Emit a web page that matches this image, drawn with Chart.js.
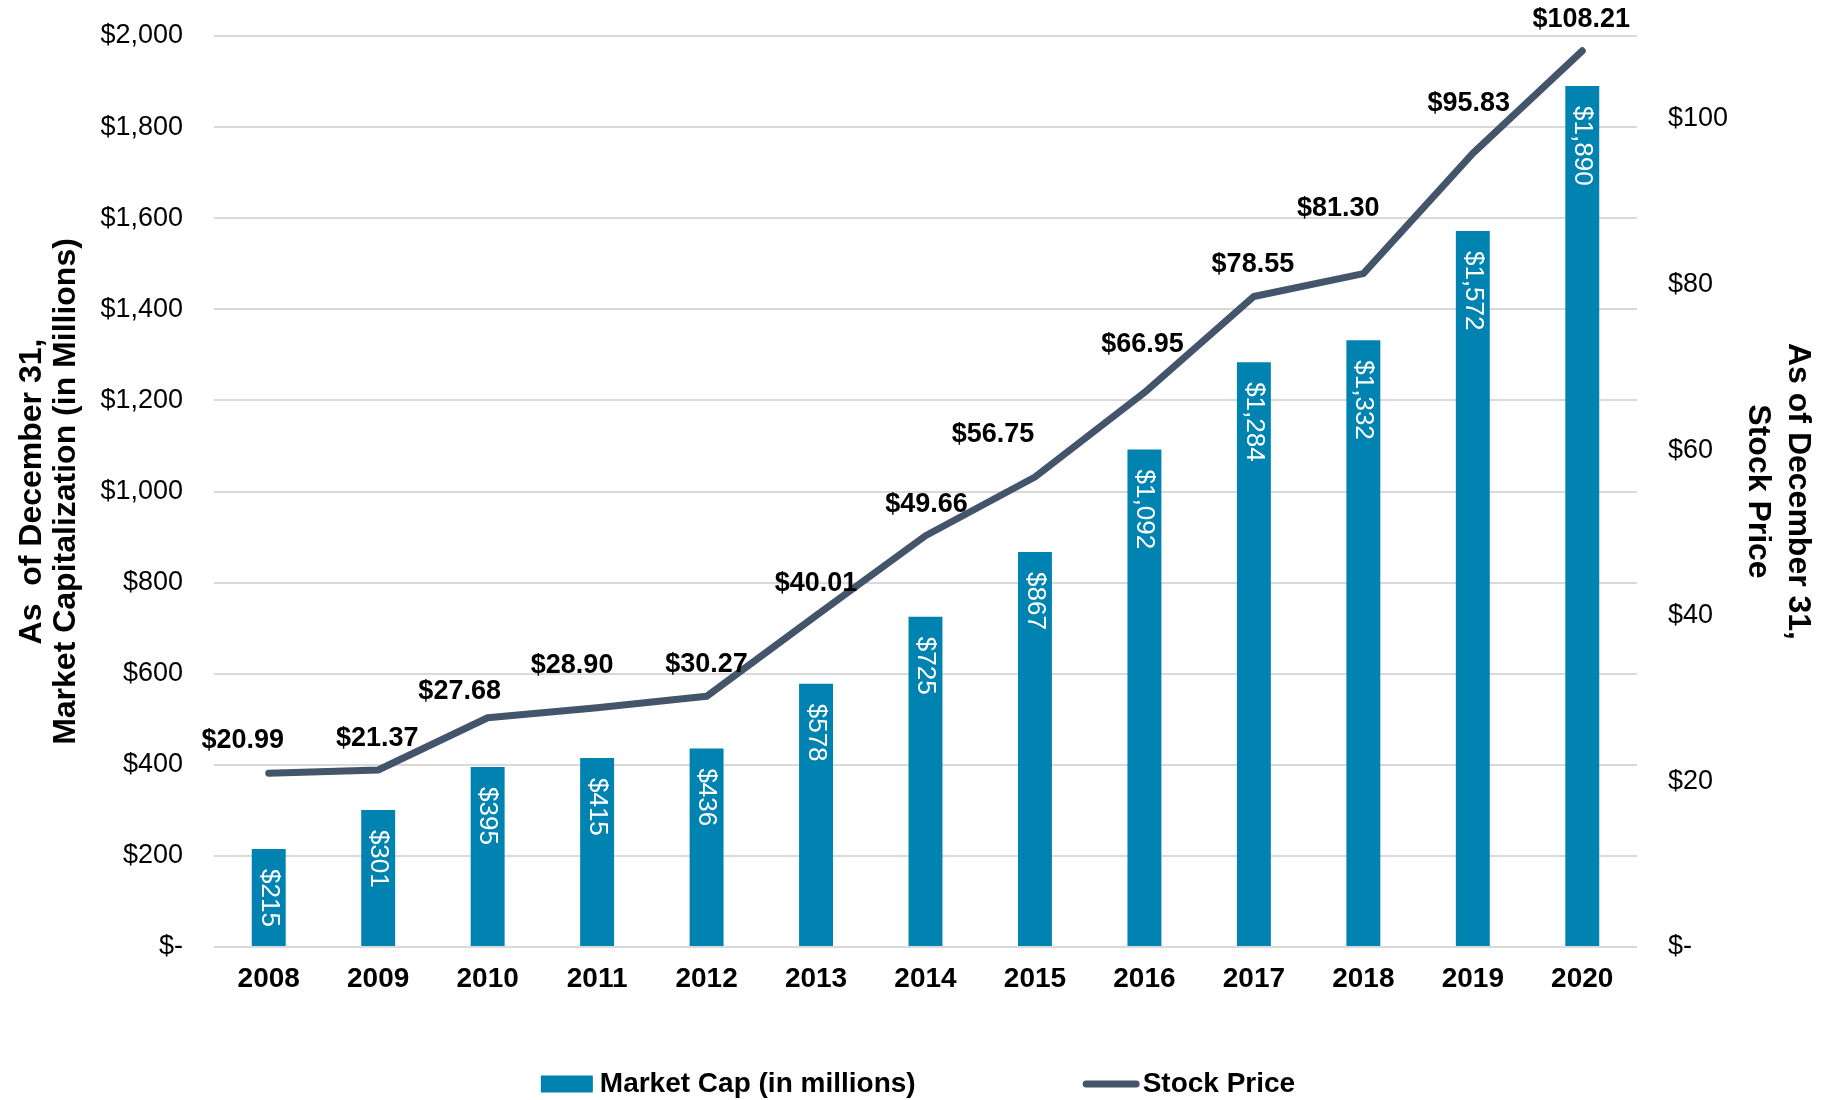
<!DOCTYPE html>
<html lang="en">
  <head>
    <meta charset="utf-8" />
    <title>Market Cap and Stock Price</title>
    <style>
      * {
        margin: 0;
        padding: 0;
      }
      body {
        background: #fff;
      }
      .chartBox {
        width: 1836px;
        height: 1100px;
      }
    </style>
  </head>
  <body>
    <div class="chartBox">
      <canvas id="myChart"></canvas>
    </div>

    <script src="https://cdn.jsdelivr.net/npm/chart.js"></script>

    <script>
      // data block
      const years = ["2008", "2009", "2010", "2011", "2012", "2013", "2014", "2015", "2016", "2017", "2018", "2019", "2020"];
      const marketCap = [215, 301, 395, 415, 436, 578, 725, 867, 1092, 1284, 1332, 1572, 1890];
      const stockPrice = [20.99, 21.37, 27.68, 28.9, 30.27, 40.01, 49.66, 56.75, 66.95, 78.55, 81.3, 95.83, 108.21];
      const capTicks = [0, 200, 400, 600, 800, 1000, 1200, 1400, 1600, 1800, 2000];
      const priceTicks = [0, 20, 40, 60, 80, 100];

      const sansFont = '"Liberation Sans", Arial, sans-serif';
      const barColor = "#0083b0";
      const lineColor = "#44546a";

      // label nudges, like the hand-placed labels in the original
      const priceLabelShiftX = [-26, -1, -28, -25, 0, 0, 1, -42, -2, -1, -25, -4, -1];
      const priceLabelShiftY = [-33, -31, -26, -42, -32, -32, -31, -42, -48, -32, -65, -50, -31];

      const fmtAxis = (v) => (v === 0 ? "$-" : "$" + v.toLocaleString("en-US"));

      // white rotated labels inside the bars
      const barLabels = {
        id: "barLabels",
        afterDatasetsDraw(chart) {
          const { ctx } = chart;
          const meta = chart.getDatasetMeta(0);
          ctx.save();
          ctx.fillStyle = "#fff";
          ctx.font = `26px ${sansFont}`;
          ctx.textAlign = "left";
          ctx.textBaseline = "middle";
          meta.data.forEach((bar, i) => {
            ctx.save();
            ctx.translate(bar.x, bar.y + 20);
            ctx.rotate(Math.PI / 2);
            ctx.fillText("$" + marketCap[i].toLocaleString("en-US"), 0, 0);
            ctx.restore();
          });
          ctx.restore();
        },
      };

      // bold price labels above the line
      const priceLabels = {
        id: "priceLabels",
        afterDatasetsDraw(chart) {
          const { ctx } = chart;
          const meta = chart.getDatasetMeta(1);
          ctx.save();
          ctx.fillStyle = "#000";
          ctx.font = `bold 27px ${sansFont}`;
          ctx.textAlign = "center";
          ctx.textBaseline = "middle";
          meta.data.forEach((pt, i) => {
            ctx.fillText(
              "$" + stockPrice[i].toFixed(2),
              pt.x + priceLabelShiftX[i],
              pt.y + priceLabelShiftY[i]
            );
          });
          ctx.restore();
        },
      };

      // legend drawn by hand so the gap between items can be wide
      const legendBox = {
        id: "legendBox",
        afterDraw(chart) {
          const { ctx, width, height } = chart;
          const y = height - 16;
          const gap = 167;
          ctx.save();
          ctx.font = `bold 28px ${sansFont}`;
          ctx.textBaseline = "middle";
          ctx.fillStyle = "#000";
          const t1 = chart.data.datasets[0].label;
          const t2 = chart.data.datasets[1].label;
          const w1 = ctx.measureText(t1).width;
          const w2 = ctx.measureText(t2).width;
          const total = 52 + 7 + w1 + gap + 57 + 3 + w2;
          let x = width / 2 - total / 2;

          ctx.fillStyle = barColor;
          ctx.fillRect(x, y - 8.5, 52, 17);
          x += 59;
          ctx.fillStyle = "#000";
          ctx.fillText(t1, x, y);
          x += w1 + gap;

          ctx.strokeStyle = lineColor;
          ctx.lineWidth = 7;
          ctx.lineCap = "round";
          ctx.beginPath();
          ctx.moveTo(x + 3.5, y);
          ctx.lineTo(x + 53.5, y);
          ctx.stroke();
          x += 60;
          ctx.fillText(t2, x, y);
          ctx.restore();
        },
      };

      // config block
      const config = {
        data: {
          labels: years,
          datasets: [
            {
              type: "bar",
              label: "Market Cap (in millions)",
              data: marketCap,
              backgroundColor: barColor,
              yAxisID: "y",
              order: 1,
              barPercentage: 0.31,
              categoryPercentage: 1,
            },
            {
              type: "line",
              label: "Stock Price",
              data: stockPrice,
              borderColor: lineColor,
              backgroundColor: lineColor,
              borderWidth: 7,
              borderCapStyle: "round",
              borderJoinStyle: "round",
              pointRadius: 0,
              pointHoverRadius: 0,
              tension: 0,
              yAxisID: "y1",
              order: 0,
            },
          ],
        },
        options: {
          responsive: true,
          maintainAspectRatio: false,
          animation: false,
          layout: {
            padding: { top: 36, bottom: 53, left: 0, right: 0 },
          },
          plugins: {
            legend: { display: false },
            tooltip: { enabled: false },
          },
          scales: {
            x: {
              grid: { display: false, drawTicks: false },
              border: { display: false },
              ticks: {
                padding: 15,
                color: "#000",
                font: { family: sansFont, size: 28, weight: "bold" },
              },
              afterFit: (axis) => {
                axis.height = 100;
              },
            },
            y: {
              position: "left",
              min: 0,
              max: 2000,
              afterBuildTicks: (axis) => {
                axis.ticks = capTicks.map((v) => ({ value: v }));
              },
              afterFit: (axis) => {
                axis.width = 214;
              },
              // invisible tick marks keep the labels off the plot without padding the top
              grid: {
                color: "#d9d9d9",
                lineWidth: 2,
                drawTicks: true,
                tickLength: 31,
                tickColor: "transparent",
              },
              border: { display: false },
              ticks: {
                padding: 0,
                color: "#000",
                font: { family: sansFont, size: 27 },
                callback: (v) => fmtAxis(v),
              },
              title: {
                display: true,
                text: ["As  of December 31,", "Market Capitalization (in Millions)"],
                color: "#000",
                font: { family: sansFont, size: 32, weight: "bold", lineHeight: 1.07 },
                padding: { top: 15, bottom: 0 },
              },
            },
            y1: {
              position: "right",
              min: 0,
              max: 110,
              afterBuildTicks: (axis) => {
                axis.ticks = priceTicks.map((v) => ({ value: v }));
              },
              afterFit: (axis) => {
                axis.width = 199;
              },
              grid: {
                color: "transparent",
                drawOnChartArea: false,
                drawTicks: true,
                tickLength: 31,
              },
              border: { display: false },
              ticks: {
                padding: 0,
                color: "#000",
                font: { family: sansFont, size: 27 },
                callback: (v) => fmtAxis(v),
              },
              title: {
                display: true,
                text: ["As of December 31,", "Stock Price"],
                color: "#000",
                font: { family: sansFont, size: 32, weight: "bold", lineHeight: 1.25 },
                padding: { top: 18, bottom: 0 },
              },
            },
          },
        },
        plugins: [barLabels, priceLabels, legendBox],
      };

      // init render block
      const ctx = document.getElementById("myChart");
      const myChart = new Chart(ctx, config);
    </script>
  </body>
</html>
